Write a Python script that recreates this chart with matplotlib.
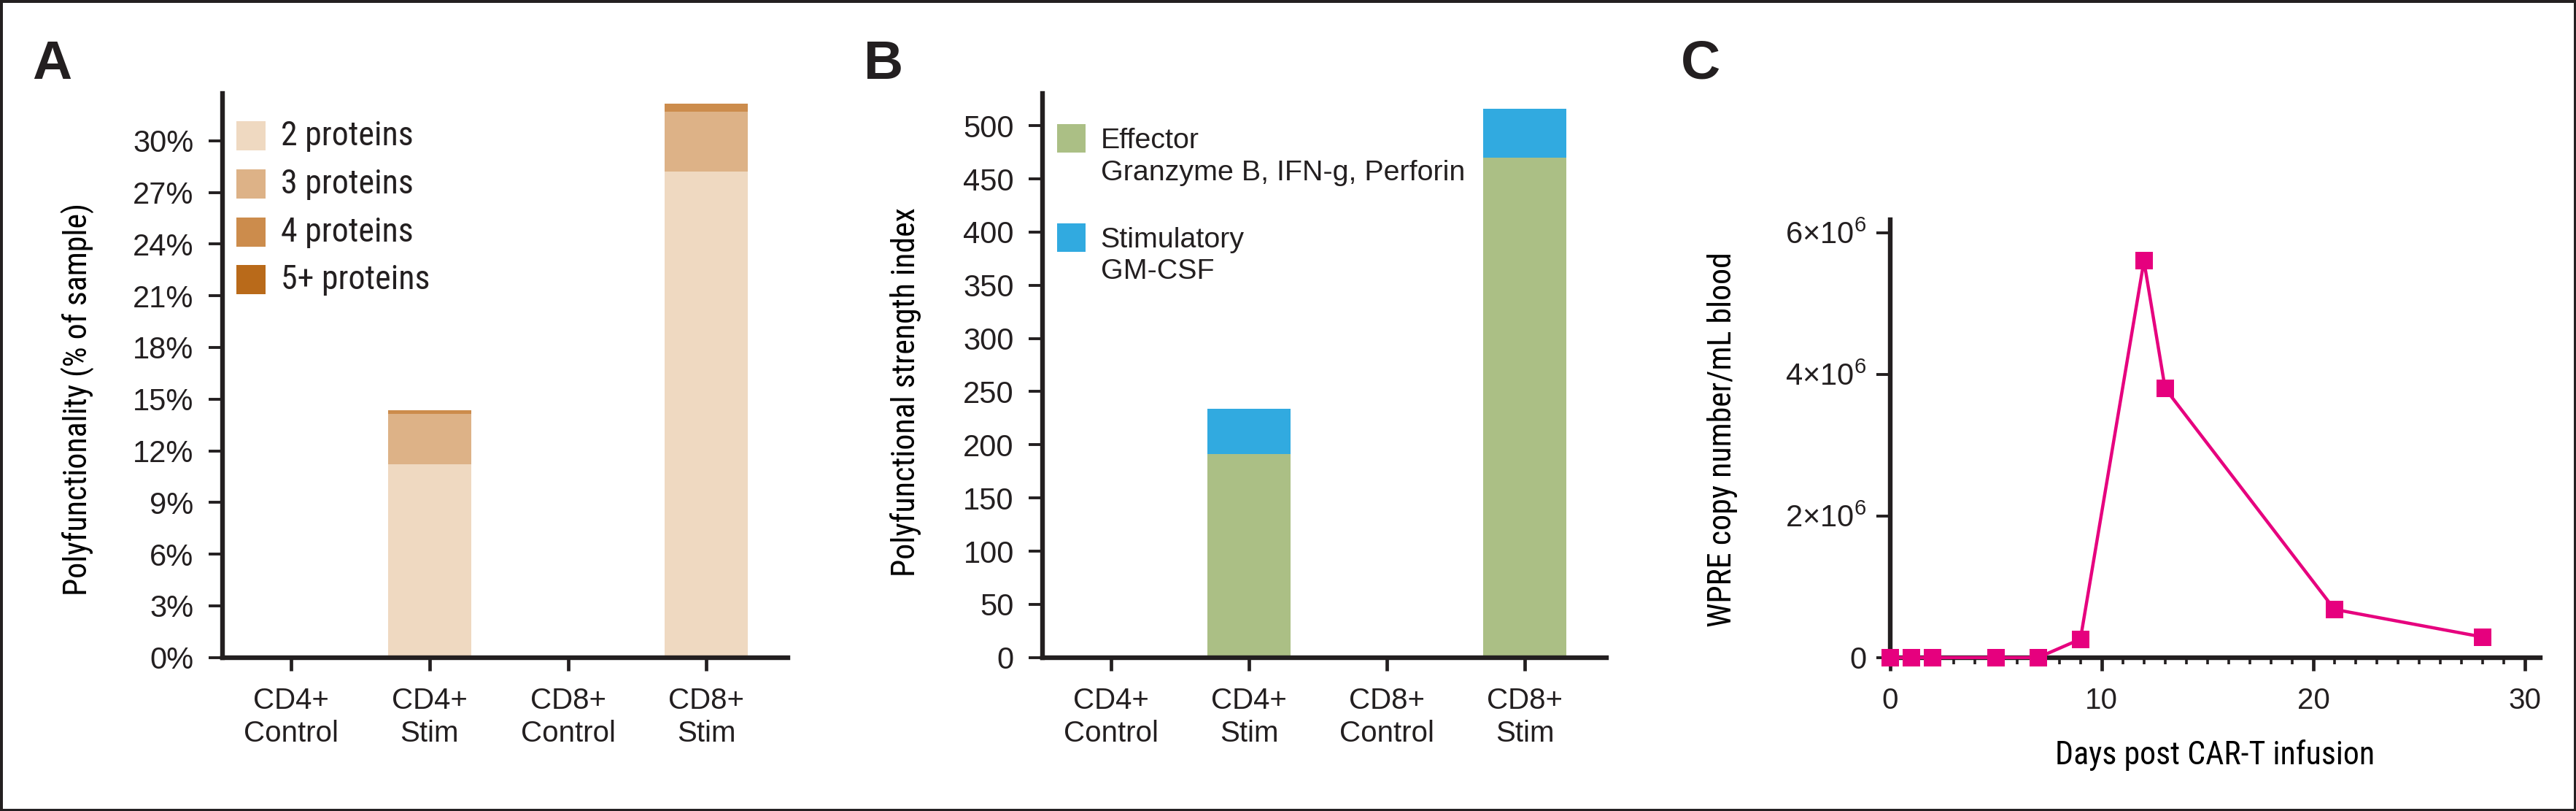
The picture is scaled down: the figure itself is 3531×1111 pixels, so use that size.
import matplotlib
matplotlib.use("Agg")
import matplotlib.pyplot as plt
from matplotlib import font_manager
from matplotlib.patches import Rectangle
from matplotlib.ticker import FixedLocator, MultipleLocator, FuncFormatter

# ---------------- data ----------------
categories = ['CD4+\nControl', 'CD4+\nStim', 'CD8+\nControl', 'CD8+\nStim']
protein_labels = ['2 proteins', '3 proteins', '4 proteins', '5+ proteins']
p2 = [0, 11.2, 0, 28.2]
p3 = [0, 2.95, 0, 3.5]
p4 = [0, 0.22, 0, 0.47]
p5 = [0, 0.0, 0, 0.0]
pct_ticks = [0, 3, 6, 9, 12, 15, 18, 21, 24, 27, 30]

psi_labels = ['Effector\nGranzyme B, IFN-g, Perforin', 'Stimulatory\nGM-CSF']
effector = [0, 191, 0, 470]
stimulatory = [0, 43, 0, 46]
psi_ticks = [0, 50, 100, 150, 200, 250, 300, 350, 400, 450, 500]

days = [0, 1, 2, 5, 7, 9, 12, 13, 21, 28]
wpre = [0, 0, 0, 0, 0, 2.6e5, 5.6e6, 3.8e6, 6.8e5, 2.9e5]
wpre_ticks = [0, 2e6, 4e6, 6e6]
day_ticks = [0, 10, 20, 30]

# ---------------- style ----------------
names = {f.name for f in font_manager.fontManager.ttflist}
REG = 'Liberation Sans' if 'Liberation Sans' in names else 'DejaVu Sans'
COND = REG
for cand in ['Liberation Sans Narrow', 'Roboto Condensed', 'Open Sans Condensed']:
    if cand in names:
        COND = cand
        break

TXT = '#231F20'
plt.rcParams['font.family'] = [REG, 'DejaVu Sans']
plt.rcParams['mathtext.fontset'] = 'custom'
plt.rcParams['mathtext.rm'] = REG
plt.rcParams['mathtext.it'] = REG
plt.rcParams['mathtext.sf'] = REG
plt.rcParams['text.color'] = TXT
plt.rcParams['xtick.color'] = TXT
plt.rcParams['ytick.color'] = TXT
plt.rcParams['axes.edgecolor'] = TXT

prot_colors = ['#EFD9C1', '#DDB287', '#CC8C4C', '#B96A1A']
psi_colors = ['#ABBF85', '#31AAE0']
line_color = '#E6007E'

W, H = 3531, 1111
DPI = 200
fig = plt.figure(figsize=(W / DPI, H / DPI), dpi=DPI)

bottom = 1 - 900.8 / H
top = 1 - 127.6 / H
axA = fig.add_axes([304.5 / W, bottom, (1080 - 304.5) / W, top - bottom])
axB = fig.add_axes([1428.7 / W, bottom, (2201.7 - 1428.7) / W, top - bottom])
topC = 1 - 301.2 / H
axC = fig.add_axes([2590.5 / W, bottom, (3481.5 - 2590.5) / W, topC - bottom])

TICK_Y = 15
TICK_X = 14.5


def style_axes(ax):
    for s in ['top', 'right']:
        ax.spines[s].set_visible(False)
    for s in ['left', 'bottom']:
        ax.spines[s].set_linewidth(2.3)
    ax.tick_params(axis='y', length=7, width=1.4, labelsize=TICK_Y, pad=7)
    ax.tick_params(axis='x', length=6.5, width=1.7, labelsize=TICK_X, pad=8)


# ---------------- panel A ----------------
x = list(range(len(categories)))
bw = 0.6
bottoms = [0] * len(categories)
for vals, col, lab in zip([p2, p3, p4, p5], prot_colors, protein_labels):
    axA.bar(x, vals, bw, bottom=bottoms, color=col, label=lab, linewidth=0)
    bottoms = [b + v for b, v in zip(bottoms, vals)]
axA.set_xlim(-0.5, 3.59)
axA.set_ylim(0, 32.76)
axA.set_yticks(pct_ticks)
axA.set_yticklabels([f'{t}%' for t in pct_ticks])
axA.set_xticks(x)
axA.set_xticklabels(categories, linespacing=1.22)
style_axes(axA)
axA.set_ylabel('Polyfunctionality (% of sample)', family=[COND, REG], fontsize=15.8)
axA.yaxis.set_label_coords((130 - 304.5) / (1080 - 304.5), 0.4576)

# manual legend A
tops_A = [0.9497, 0.8654, 0.7797, 0.6957]
for lab, col, ty in zip(protein_labels, prot_colors, tops_A):
    axA.add_patch(Rectangle((0.0246, ty - 0.0517), 0.0516, 0.0517, transform=axA.transAxes,
                            facecolor=col, edgecolor='none', clip_on=False))
    axA.text(0.1038, ty - 0.0258, lab, transform=axA.transAxes, va='center', ha='left',
             fontsize=16.5, family=[COND, REG])

# ---------------- panel B ----------------
axB.bar(x, effector, bw, color=psi_colors[0], linewidth=0)
axB.bar(x, stimulatory, bw, bottom=effector, color=psi_colors[1], linewidth=0)
axB.set_xlim(-0.5, 3.59)
axB.set_ylim(0, 530.6)
axB.set_yticks(psi_ticks)
axB.set_xticks(x)
axB.set_xticklabels(categories, linespacing=1.22)
style_axes(axB)
axB.set_ylabel('Polyfunctional strength index', family=[COND, REG], fontsize=15.8)
axB.yaxis.set_label_coords((1263 - 1428.7) / (2201.7 - 1428.7), 0.4705)

tops_B = [0.9452, 0.7693]
text_centers_B = [0.887, 0.712]
for lab, col, ty, tc in zip(psi_labels, psi_colors, tops_B, text_centers_B):
    axB.add_patch(Rectangle((0.0263, ty - 0.0504), 0.05, 0.0504, transform=axB.transAxes,
                            facecolor=col, edgecolor='none', clip_on=False))
    axB.text(0.1035, tc, lab, transform=axB.transAxes, va='center', ha='left',
             fontsize=14.2, linespacing=1.27)

# ---------------- panel C ----------------
axC.plot(days, wpre, color=line_color, lw=1.6, marker='s', markersize=8.5,
         markeredgewidth=0, clip_on=False, zorder=5)
axC.set_xlim(0, 30.7)
axC.set_ylim(0, 6.18e6)
axC.xaxis.set_major_locator(FixedLocator(day_ticks))
axC.xaxis.set_minor_locator(MultipleLocator(1))
axC.set_yticks(wpre_ticks)


def fmt(v, pos):
    if v == 0:
        return '0'
    m = v / 1e6
    return f'{m:g}×10$^{{6}}$'


axC.yaxis.set_major_formatter(FuncFormatter(fmt))
style_axes(axC)
axC.tick_params(axis='y', pad=4.5)
axC.tick_params(axis='x', which='minor', length=3.3, width=1.3)
axC.set_ylabel('WPRE copy number/mL blood', family=[COND, REG], fontsize=15.8)
axC.yaxis.set_label_coords((2382 - 2590.5) / (3481.5 - 2590.5), 0.4975)
axC.set_xlabel('Days post CAR-T infusion', family=[COND, REG], fontsize=15.8)
axC.xaxis.set_label_coords((3036 - 2590.5) / (3481.5 - 2590.5), (900.8 - 1035) / (900.8 - 301.2))
axC.xaxis.label.set_va('center')

# ---------------- panel letters & frame ----------------
for letter, xp in zip(['A', 'B', 'C'], [44, 1184, 2304]):
    fig.text(xp / W, 1 - 108 / H, letter, fontsize=27, fontweight='bold',
             ha='left', va='baseline', family=[REG])

fig.patches.append(Rectangle((0, 0), 1, 1, transform=fig.transFigure, fill=False,
                             edgecolor=TXT, linewidth=2.5, zorder=10))

fig.savefig('out.png', dpi=DPI)
